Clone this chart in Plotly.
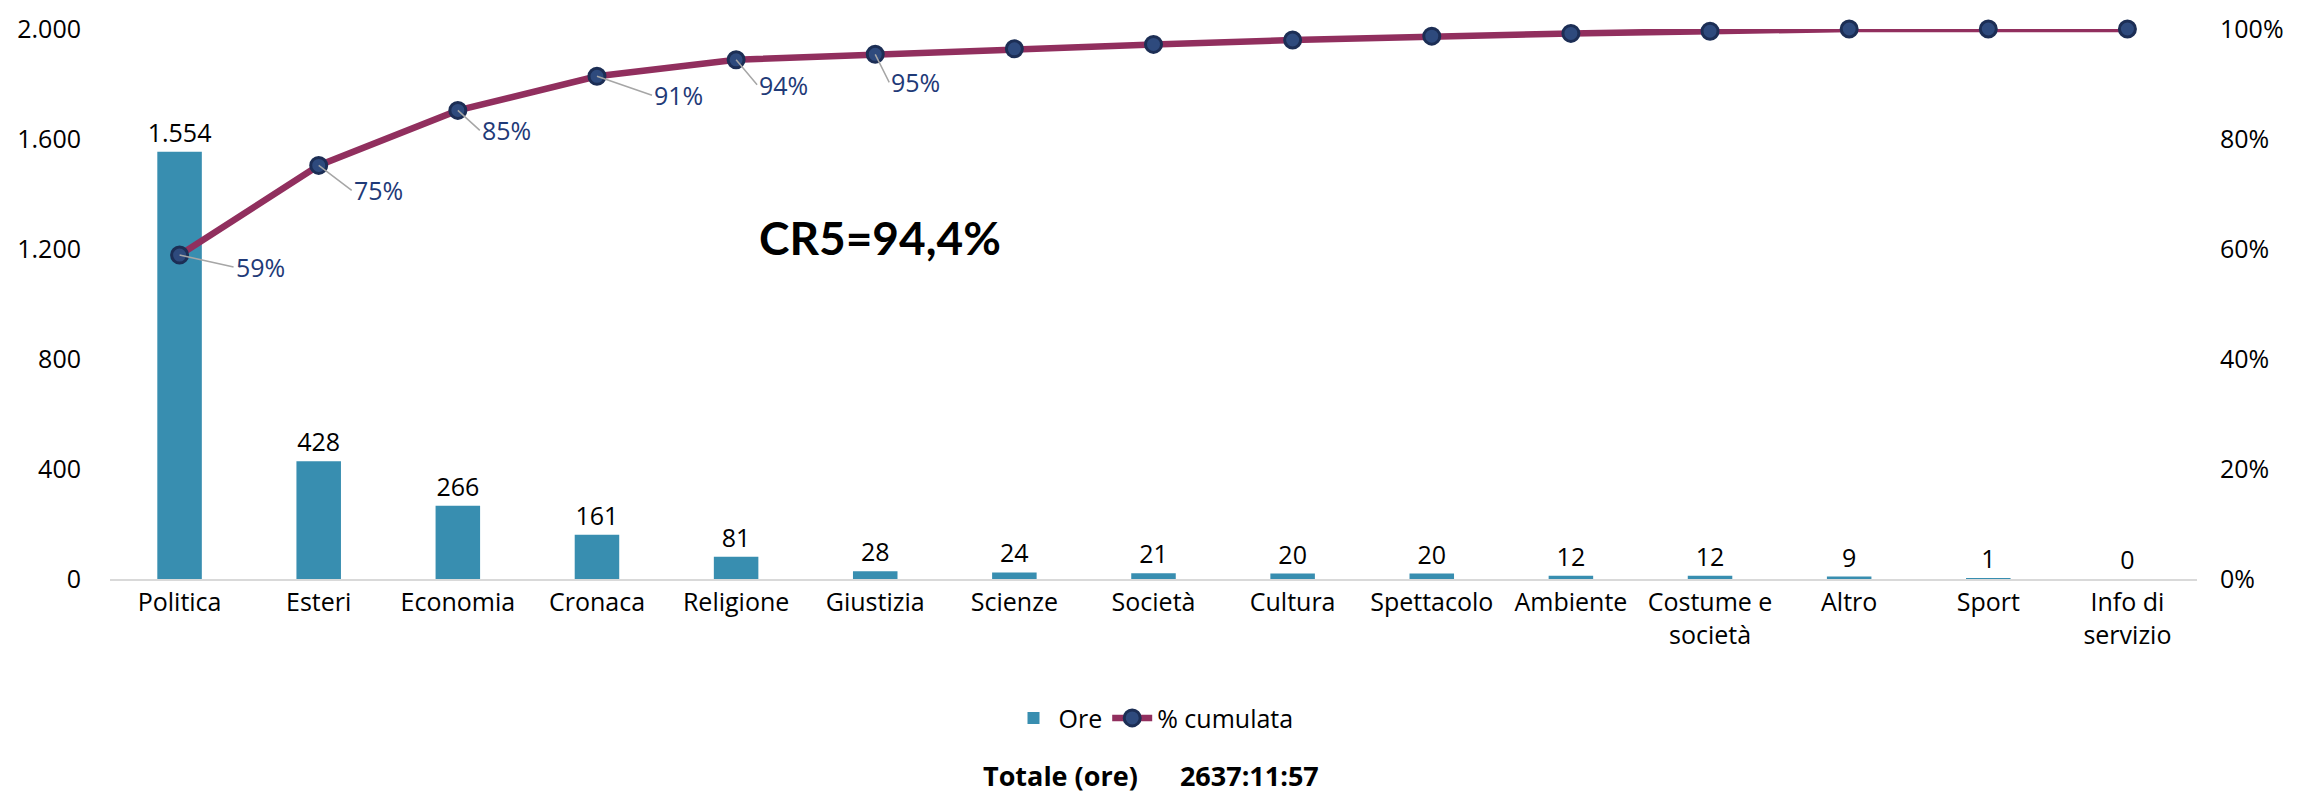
import plotly.graph_objects as go

categories = ["Politica", "Esteri", "Economia", "Cronaca", "Religione", "Giustizia",
              "Scienze", "Società", "Cultura", "Spettacolo", "Ambiente",
              "Costume e<br>società", "Altro", "Sport", "Info di<br>servizio"]
ore = [1554, 428, 266, 161, 81, 28, 24, 21, 20, 20, 12, 12, 9, 1, 0]
cum_pct = [0.589, 0.752, 0.852, 0.914, 0.944, 0.954, 0.964, 0.972, 0.980,
           0.987, 0.992, 0.996, 1.000, 1.000, 1.000]
labelled_points = 6
label_offsets = [(54, 12), (33, 25), (22, 20), (55, 19), (21, 25), (14, 28)]
left_ticks = [0, 400, 800, 1200, 1600, 2000]
right_ticks = [0, 0.2, 0.4, 0.6, 0.8, 1.0]

FONT = "Open Sans, Segoe UI, sans-serif"
BAR_COLOR = "#388EB0"
LINE_COLOR = "#912F5E"
LABEL_COLOR = "#1F3A78"

fig = go.Figure()
fig.add_trace(go.Bar(
    x=categories, y=ore, name="Ore",
    marker=dict(color=BAR_COLOR, line=dict(width=0)),
    texttemplate="%{y:,.0f}", textposition="outside", constraintext="none",
    textfont=dict(family=FONT, size=25, color="#000000"),
    cliponaxis=False, width=0.32,
))
fig.add_trace(go.Scatter(
    x=categories, y=cum_pct, name="% cumulata", yaxis="y2",
    mode="lines+markers",
    line=dict(color=LINE_COLOR, width=6.5),
    marker=dict(size=16, color="#2E4A7D", line=dict(color="#1C2E55", width=3)),
    cliponaxis=False,
))

for i in range(labelled_points):
    ax, ay = label_offsets[i]
    fig.add_annotation(
        x=categories[i], y=cum_pct[i], xref="x", yref="y2",
        text=f"{round(cum_pct[i] * 100)}%",
        showarrow=True, arrowhead=0, arrowwidth=1.5, arrowcolor="#A6A6A6",
        ax=ax, ay=ay, xanchor="left", standoff=0,
        font=dict(family=FONT, size=25, color=LABEL_COLOR),
    )

fig.add_annotation(
    x=0.369, y=0.674, xref="paper", yref="paper", showarrow=False,
    text="<b>CR5=94,4%</b>",
    font=dict(family="Lato, sans-serif", size=46, color="#000000"),
)
fig.add_annotation(
    x=0.499, y=-0.395, xref="paper", yref="paper", showarrow=False,
    text="<b>Totale (ore)      2637:11:57</b>",
    font=dict(family=FONT, size=27, color="#000000"),
)

fig.update_layout(
    width=2303, height=795,
    margin=dict(l=110, r=106, t=29, b=216, autoexpand=False),
    paper_bgcolor="white", plot_bgcolor="white",
    separators=",.",
    bargap=0.68,
    showlegend=True,
    legend=dict(orientation="h", x=0.5, xanchor="center", y=-0.253, yanchor="middle",
                font=dict(family=FONT, size=25, color="#000000"),
                itemwidth=40, traceorder="normal"),
    xaxis=dict(showgrid=False, showline=True, linecolor="#D9D9D9", linewidth=2,
               range=[-0.5, len(categories) - 0.5], autorange=False,
               ticks="", tickfont=dict(family=FONT, size=25, color="#000000"),
               tickangle=0, zeroline=False, automargin=False),
    yaxis=dict(range=[0, 2000], tickvals=left_ticks, tickformat=",d",
               showgrid=False, zeroline=False, showline=False, ticks="",
               ticklabelstandoff=28, automargin=False,
               tickfont=dict(family=FONT, size=25, color="#000000")),
    yaxis2=dict(range=[0, 1], tickvals=right_ticks, tickformat=".0%",
                overlaying="y", side="right", showgrid=False, zeroline=False,
                showline=False, ticks="", ticklabelstandoff=22, automargin=False,
                tickfont=dict(family=FONT, size=25, color="#000000")),
)

fig.write_html("out.html", config={"displayModeBar": False},
               post_script="document.body.style.margin='0';")
